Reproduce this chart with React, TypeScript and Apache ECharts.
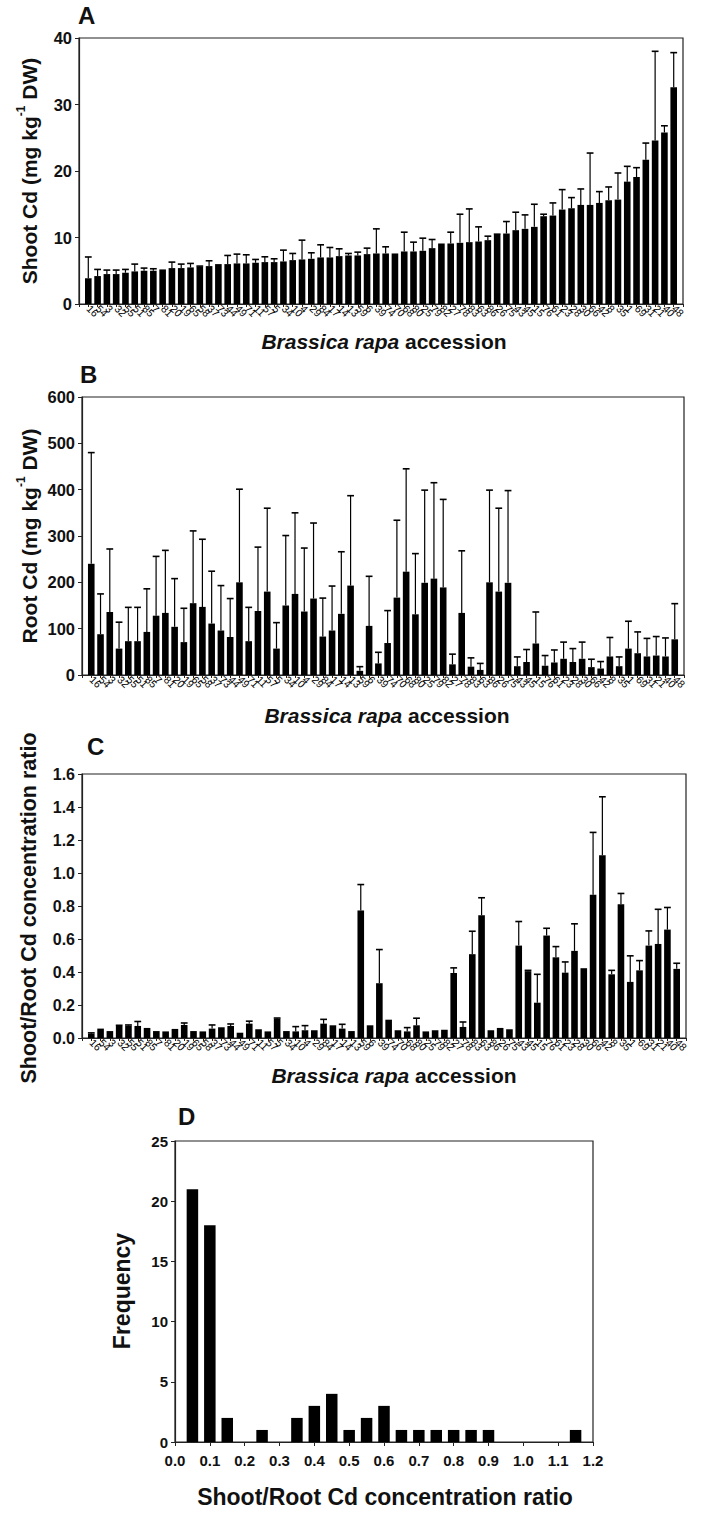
import React, { useEffect, useRef } from "react";
import * as echarts from "echarts";

const accessions = ["16","54","3","32","55","51","85","7","81","20","19","65","58","37","73","44","49","71","11","57","5","34","10","4","29","84","17","14","13","59","6","39","74","70","68","80","25","79","82","27","78","83","63","86","26","75","43","45","15","76","61","23","28","30","66","42","8","35","1","69","31","21","40","48"];

const shootMean = [3.87,4.2,4.5,4.5,4.7,4.9,5.0,5.0,5.2,5.4,5.4,5.5,5.6,5.7,6.0,6.0,6.1,6.1,6.2,6.3,6.3,6.4,6.6,6.7,6.8,7.0,7.0,7.2,7.3,7.3,7.5,7.6,7.6,7.6,7.9,7.9,8.0,8.4,9.1,9.1,9.2,9.3,9.4,9.6,10.4,10.6,11.1,11.3,11.6,13.2,13.3,14.2,14.4,14.9,14.9,15.2,15.6,15.7,18.4,19.1,21.7,24.6,25.8,32.6];
const shootErr = [3.2,1.0,0.6,0.6,0.5,1.1,0.4,0.3,0,0.9,0.6,0.6,0.1,0.8,0,1.3,1.4,1.3,0.5,0.8,0.5,1.7,1.0,2.9,0.9,1.9,1.5,1.1,0.3,0.5,0.9,3.7,1.0,0,2.9,1.4,1.9,1.3,0,1.7,4.3,5.0,2.2,0.6,0.1,1.8,2.7,2.1,3.4,0.3,1.9,3.0,1.6,2.4,7.8,1.7,2.0,4.0,2.3,1.4,2.5,13.4,1.0,5.2];

const rootMean = [240,88,136,57,73,73,93,128,134,104,71,155,147,111,96,82,200,73,138,180,57,150,175,137,165,83,96,132,193,9,106,25,69,167,223,131,199,208,189,23,134,18,11,200,180,199,19,28,68,20,27,35,28,35,17,14,40,19,57,47,40,42,40,77];
const rootErr = [240,87,136,57,73,73,93,128,135,104,73,156,146,113,97,83,201,73,138,180,56,151,175,137,163,83,96,134,194,9,107,24,70,167,222,131,200,207,190,22,134,19,14,199,180,199,20,27,68,22,27,36,29,36,17,15,41,20,59,46,39,41,40,77];

const ratioMean = [0.026,0.057,0.042,0.073,0.075,0.073,0.061,0.042,0.040,0.055,0.079,0.042,0.040,0.057,0.065,0.073,0.032,0.087,0.053,0.040,0.117,0.042,0.040,0.047,0.047,0.087,0.077,0.057,0.042,0.773,0.077,0.332,0.111,0.047,0.040,0.077,0.040,0.047,0.050,0.394,0.067,0.508,0.744,0.047,0.061,0.053,0.560,0.405,0.214,0.621,0.489,0.396,0.528,0.423,0.868,1.108,0.386,0.811,0.340,0.410,0.560,0.570,0.657,0.419];
const ratioErr = [0.005,0,0,0.004,0.004,0.027,0,0,0,0,0.012,0,0,0.022,0,0.012,0,0.015,0,0,0.004,0,0.029,0.028,0,0.026,0,0.026,0,0.157,0,0.204,0,0,0.023,0.043,0,0,0,0.031,0.030,0.139,0.106,0,0,0,0.146,0.005,0.172,0.044,0.065,0.065,0.164,0,0.378,0.354,0.024,0.065,0.158,0.059,0.089,0.210,0.134,0.034];

const histBins = [0.05,0.1,0.15,0.25,0.35,0.4,0.45,0.5,0.55,0.6,0.65,0.7,0.75,0.8,0.85,0.9,1.15];
const histFreq = [21,18,2,1,2,3,4,1,2,3,1,1,1,1,1,1,1];

const FONT = "'Liberation Sans', Arial, Helvetica, sans-serif";
const INK = "#111";

export default function App() {
  const ref = useRef<HTMLDivElement>(null);

  useEffect(() => {
    if (!ref.current) return;
    const chart = echarts.init(ref.current, null, { renderer: "svg" });

    const grids = [
      { left: 79, top: 38, width: 604, height: 266 },
      { left: 82, top: 397, width: 602, height: 278 },
      { left: 82, top: 774, width: 604, height: 264 },
      { left: 175, top: 1141, width: 418, height: 301 },
    ].map((g) => ({ ...g, show: true, borderColor: "#222", borderWidth: 1.2, containLabel: false }));

    const accAxis = (gridIndex: number) => ({
      type: "value",
      gridIndex,
      min: -1,
      max: 64,
      interval: 1,
      axisLine: { show: true, onZero: false, lineStyle: { color: "#222", width: 1.2 } },
      axisTick: { show: true, length: 3, lineStyle: { color: "#222", width: 1 } },
      splitLine: { show: false },
      axisLabel: {
        rotate: -45,
        fontSize: 10.5,
        fontFamily: FONT,
        color: "#000",
        margin: 3,
        overflow: "none",
        hideOverlap: false,
        formatter: (v: number) => accessions[Math.round(v)] ?? "",
      },
    });

    const valAxis = (gridIndex: number, max: number, interval: number, dec: number, fs = 16.5) => ({
      type: "value",
      gridIndex,
      min: 0,
      max,
      interval,
      axisLine: { show: true, onZero: false, lineStyle: { color: "#222", width: 1.2 } },
      axisTick: { show: true, length: 4, lineStyle: { color: "#222", width: 1 } },
      splitLine: { show: false },
      axisLabel: {
        fontSize: fs,
        fontWeight: "bold",
        fontFamily: FONT,
        color: INK,
        margin: 7,
        formatter: (v: number) => v.toFixed(dec),
      },
    });

    const errSeries = (idx: number, mean: number[], err: number[]) => ({
      type: "custom",
      xAxisIndex: idx,
      yAxisIndex: idx,
      encode: { x: 0, y: 1 },
      data: mean.map((m, i) => [i, m, err[i]]),
      z: 3,
      renderItem: (params: any, api: any) => {
        const x = api.value(0);
        const m = api.value(1);
        const e = api.value(2);
        if (!(e > 0)) return { type: "group", children: [] };
        const p0 = api.coord([x, m]);
        const p1 = api.coord([x, m + e]);
        const hw = 3.4;
        return {
          type: "group",
          children: [
            { type: "line", shape: { x1: p0[0], y1: p0[1], x2: p1[0], y2: p1[1] }, style: { stroke: "#000", lineWidth: 1.2 } },
            { type: "line", shape: { x1: p1[0] - hw, y1: p1[1], x2: p1[0] + hw, y2: p1[1] }, style: { stroke: "#000", lineWidth: 1.6 } },
          ],
        };
      },
    });

    const barSeries = (idx: number, mean: number[]) => ({
      type: "bar",
      xAxisIndex: idx,
      yAxisIndex: idx,
      barWidth: 6.6,
      itemStyle: { color: "#000" },
      data: mean.map((m, i) => [i, m]),
      z: 2,
    });

    const TS = 21;
    const titleFont = { fontSize: TS, fontWeight: "bold", fontFamily: FONT, fill: INK };
    const supRich = {
      n: { fontSize: TS, fontWeight: "bold", fontFamily: FONT, color: INK, lineHeight: 25, verticalAlign: "bottom" },
      s: { fontSize: 12, fontWeight: "bold", fontFamily: FONT, color: INK, lineHeight: 25, verticalAlign: "top" },
    };
    const accRich = {
      i: { fontSize: TS, fontWeight: "bold", fontStyle: "italic", fontFamily: FONT, color: INK },
      n: { fontSize: TS, fontWeight: "bold", fontFamily: FONT, color: INK },
    };

    const vText = (x: number, y: number, text: string, rich?: any, fs = TS) => ({
      type: "text",
      x,
      y,
      rotation: Math.PI / 2,
      style: { text, rich, ...titleFont, fontSize: fs, align: "center", verticalAlign: "middle" },
    });
    const hText = (x: number, y: number, text: string, rich?: any, fs = TS) => ({
      type: "text",
      x,
      y,
      style: { text, rich, ...titleFont, fontSize: fs, align: "center", verticalAlign: "middle" },
    });
    const letter = (x: number, y: number, t: string) => ({
      type: "text",
      x,
      y,
      style: { text: t, fontSize: 24, fontWeight: "bold", fontFamily: FONT, fill: INK, align: "left", verticalAlign: "middle" },
    });

    chart.setOption({
      animation: false,
      backgroundColor: "#fff",
      grid: grids,
      xAxis: [
        accAxis(0),
        accAxis(1),
        accAxis(2),
        {
          type: "value",
          gridIndex: 3,
          min: 0,
          max: 1.2,
          interval: 0.1,
          axisLine: { show: true, onZero: false, lineStyle: { color: "#222", width: 1.2 } },
          axisTick: { show: true, length: 4, lineStyle: { color: "#222", width: 1 } },
          splitLine: { show: false },
          axisLabel: { fontSize: 15, fontWeight: "bold", fontFamily: FONT, color: INK, margin: 11, formatter: (v: number) => v.toFixed(1) },
        },
      ],
      yAxis: [
        valAxis(0, 40, 10, 0),
        valAxis(1, 600, 100, 0),
        valAxis(2, 1.6, 0.2, 1, 16),
        valAxis(3, 25, 5, 0, 15),
      ],
      series: [
        barSeries(0, shootMean),
        errSeries(0, shootMean, shootErr),
        barSeries(1, rootMean),
        errSeries(1, rootMean, rootErr),
        barSeries(2, ratioMean),
        errSeries(2, ratioMean, ratioErr),
        {
          type: "bar",
          xAxisIndex: 3,
          yAxisIndex: 3,
          barWidth: 11.5,
          itemStyle: { color: "#000" },
          data: histBins.map((b, i) => [b, histFreq[i]]),
        },
      ],
      graphic: [
        letter(78, 15, "A"),
        letter(80, 374, "B"),
        letter(87, 746, "C"),
        letter(178, 1116, "D"),
        vText(27, 171, "{n|Shoot Cd (mg kg}{s|-1}{n| DW)}", supRich),
        hText(384, 341, "{i|Brassica rapa} {n|accession}", accRich),
        vText(27, 536, "{n|Root Cd (mg kg}{s|-1}{n| DW)}", supRich),
        hText(387, 715, "{i|Brassica rapa} {n|accession}", accRich),
        vText(29, 908, "Shoot/Root Cd concentration ratio", undefined, 21.5),
        hText(394, 1075, "{i|Brassica rapa} {n|accession}", accRich),
        vText(122, 1291, "Frequency", undefined, 23),
        hText(385, 1497, "Shoot/Root Cd concentration ratio", undefined, 23),
      ],
    });

    return () => chart.dispose();
  }, []);

  return <div ref={ref} style={{ position: "absolute", left: 0, top: 0, width: 704, height: 1514 }} />;
}
